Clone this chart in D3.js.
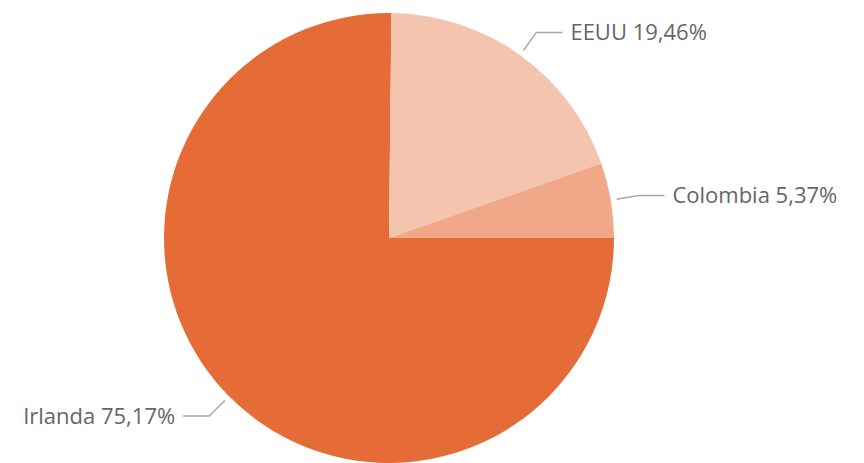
<!DOCTYPE html>
<html>
<head>
<meta charset="utf-8">
<script src="https://cdn.jsdelivr.net/npm/d3@7"></script>
<style>
  body { margin: 0; background: #fff; }
  text { font-family: "Open Sans", "Noto Sans", sans-serif; }
</style>
</head>
<body>
<div id="chart"></div>
<script>
// Data
const countries = ["Irlanda", "EEUU", "Colombia"];
const shares = [75.17, 19.46, 5.37];
const colors = ["#E66C37", "#F5C4AF", "#F0A888"];

const width = 864;
const height = 463;
const cx = 389, cy = 238, radius = 225;

const data = countries.map((c, i) => ({ name: c, value: shares[i], color: colors[i] }));

const svg = d3.select("#chart")
  .append("svg")
  .attr("width", width)
  .attr("height", height);

const g = svg.append("g").attr("transform", `translate(${cx},${cy})`);

// start at 3 o'clock, clockwise, keep order
const pie = d3.pie()
  .value(d => d.value)
  .sort(null)
  .startAngle(Math.PI / 2)
  .endAngle(Math.PI / 2 + 2 * Math.PI);

const arc = d3.arc().innerRadius(0).outerRadius(radius);

const arcs = pie(data);

g.selectAll("path.slice")
  .data(arcs)
  .enter()
  .append("path")
  .attr("class", "slice")
  .attr("d", arc)
  .attr("fill", d => d.data.color);

// leader lines
const r1 = 231, r2 = 253, hlen = 26, gap = 8;
const pt = (a, r) => [r * Math.sin(a), -r * Math.cos(a)];

arcs.forEach(d => {
  const mid = (d.startAngle + d.endAngle) / 2;
  const p1 = pt(mid, r1);
  const p2 = pt(mid, r2);
  const right = Math.sin(mid) > 0;
  const p3 = [p2[0] + (right ? hlen : -hlen), p2[1]];

  g.append("polyline")
    .attr("points", [p1, p2, p3].map(p => p.join(",")).join(" "))
    .attr("fill", "none")
    .attr("stroke", "#a8a8a8")
    .attr("stroke-width", 1.5);

  g.append("text")
    .attr("x", p3[0] + (right ? gap : -gap))
    .attr("y", p3[1])
    .attr("dy", "0.36em")
    .attr("text-anchor", right ? "start" : "end")
    .attr("font-size", 22)
    .attr("fill", "#666666")
    .text(`${d.data.name} ${d.data.value.toFixed(2).replace(".", ",")}%`);
});
</script>
</body>
</html>
